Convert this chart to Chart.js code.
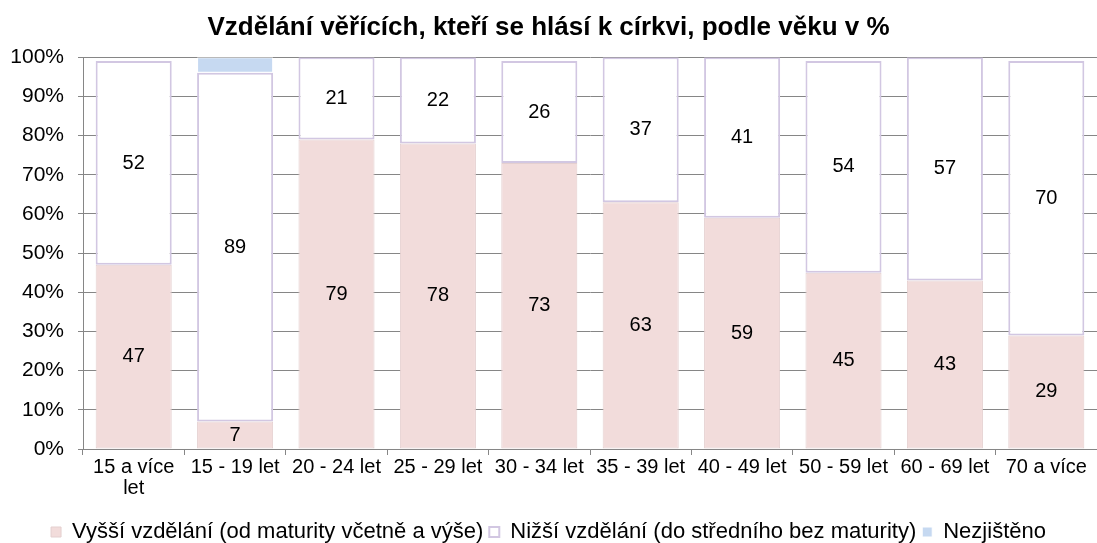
<!DOCTYPE html>
<html>
<head>
<meta charset="utf-8">
<script src="https://cdn.jsdelivr.net/npm/chart.js@4/dist/chart.umd.min.js"></script>
<style>
  html, body { margin: 0; padding: 0; background: #fff; }
  #wrap { width: 1097px; height: 543px; }
</style>
</head>
<body>
<div id="wrap"><canvas id="myChart"></canvas></div>
<script>
const categories = [["15 a více", "let"], "15 - 19 let", "20 - 24 let", "25 - 29 let", "30 - 34 let",
    "35 - 39 let", "40 - 49 let", "50 - 59 let", "60 - 69 let", "70 a více"];
const vyssi = [47, 7, 79, 78, 73, 63, 59, 45, 43, 29];
const nizsi = [52, 89, 21, 22, 26, 37, 41, 54, 57, 70];
const nezjisteno = [0, 4, 0, 0, 0, 0, 0, 0, 0, 0];
const yTicks = [0, 10, 20, 30, 40, 50, 60, 70, 80, 90, 100];

const FONT = "'Liberation Sans', Arial, sans-serif";

// values written in the middle of each segment
const segmentLabels = {
    id: "segmentLabels",
    afterDatasetsDraw(chart) {
        const ctx = chart.ctx;
        ctx.save();
        ctx.font = "20px " + FONT;
        ctx.fillStyle = "#000";
        ctx.textAlign = "center";
        ctx.textBaseline = "middle";
        [0, 1].forEach(di => {
            const meta = chart.getDatasetMeta(di);
            meta.data.forEach((bar, i) => {
                const v = chart.data.datasets[di].data[i];
                if (!v) return;
                ctx.fillText(v, bar.x, (bar.y + bar.base) / 2);
            });
        });
        ctx.restore();
    }
};

new Chart(document.getElementById("myChart").getContext("2d"), {
    type: "bar",
    data: {
        labels: categories,
        datasets: [
            {
                label: "Vyšší vzdělání (od maturity včetně a výše)",
                data: vyssi,
                backgroundColor: "#f2dcdb",
                borderColor: "#e4cfcf",
                borderWidth: 1,
                borderSkipped: false,
                barPercentage: 0.75,
                categoryPercentage: 1
            },
            {
                label: "Nižší vzdělání (do středního bez maturity)",
                data: nizsi,
                backgroundColor: "#ffffff",
                borderColor: "#d2c7e2",
                borderWidth: 2,
                borderSkipped: false,
                barPercentage: 0.75,
                categoryPercentage: 1
            },
            {
                label: "Nezjištěno",
                data: nezjisteno,
                backgroundColor: "#c6d9f1",
                borderColor: "#ffffff",
                borderWidth: 1,
                borderSkipped: false,
                barPercentage: 0.75,
                categoryPercentage: 1
            }
        ]
    },
    options: {
        responsive: true,
        maintainAspectRatio: false,
        animation: false,
        layout: { padding: { left: 0, right: 0, top: 0, bottom: -10 } },
        scales: {
            x: {
                stacked: true,
                grid: { drawOnChartArea: false, color: "#868686", tickLength: 6 },
                border: { color: "#868686", width: 1 },
                ticks: {
                    color: "#000",
                    font: { family: FONT, size: 20, lineHeight: 1.05 },
                    maxRotation: 0, autoSkip: false, padding: 2
                },
                afterFit: scale => { scale.height += 14; }
            },
            y: {
                stacked: true,
                min: 0,
                max: 100,
                afterBuildTicks: axis => { axis.ticks = yTicks.map(v => ({ value: v })); },
                grid: { color: "#868686", tickLength: 5 },
                border: { color: "#868686", width: 1 },
                ticks: {
                    color: "#000",
                    font: { family: FONT, size: 21 },
                    padding: 14,
                    callback: v => v + "%"
                },
                afterFit: scale => { scale.width = 83; }
            }
        },
        plugins: {
            title: {
                display: true,
                text: "Vzdělání věřících, kteří se hlásí k církvi, podle věku v %",
                color: "#000",
                font: { family: FONT, size: 26, weight: "bold" },
                padding: { top: 12, bottom: 14 }
            },
            legend: {
                position: "bottom",
                labels: {
                    color: "#000",
                    font: { family: FONT, size: 22 },
                    boxWidth: 10,
                    boxHeight: 10,
                    padding: 6
                }
            },
            tooltip: { enabled: false }
        }
    },
    plugins: [segmentLabels]
});
</script>
</body>
</html>
